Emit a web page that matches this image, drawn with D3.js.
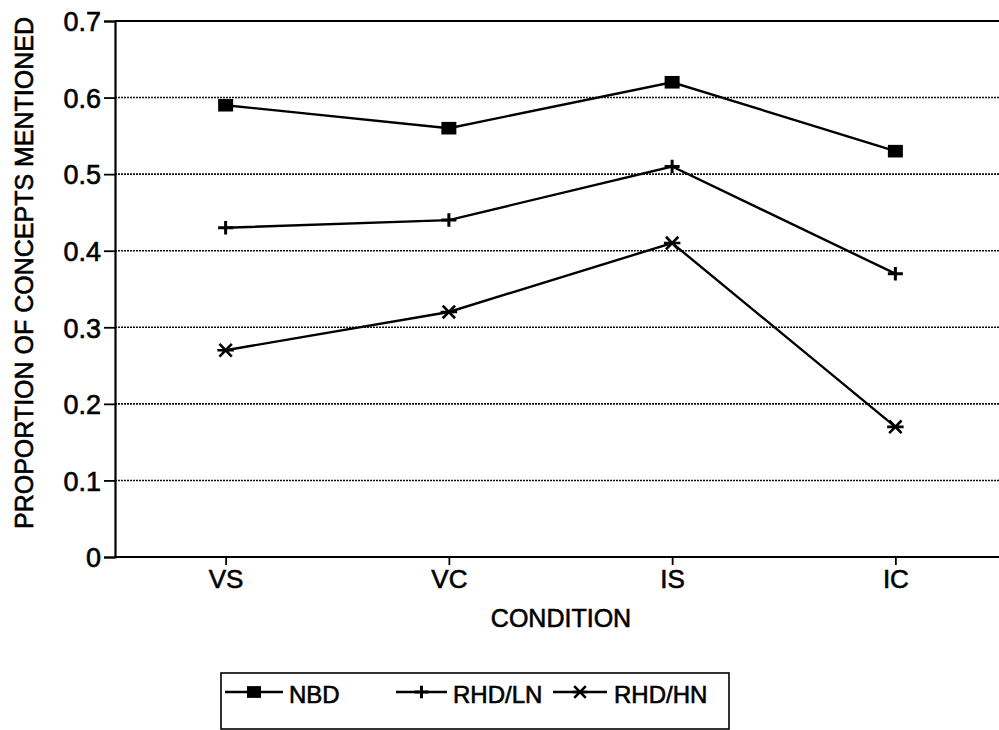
<!DOCTYPE html>
<meta charset="utf-8">
<style>
    body { margin: 0; background: #fff; }
    text { font-family: "Liberation Sans", Arial, sans-serif; fill: #000; stroke: #000; stroke-width: 0.6px; }
</style>
<script src="https://d3js.org/d3.v7.min.js"></script>
<svg id="chart" width="999" height="730"></svg>
<script>

// data
var conditions = ["VS", "VC", "IS", "IC"];
var seriesNames = ["NBD", "RHD/LN", "RHD/HN"];
var nbd = [0.59, 0.56, 0.62, 0.53];
var rhdLn = [0.43, 0.44, 0.51, 0.37];
var rhdHn = [0.27, 0.32, 0.41, 0.17];
var yTicks = [0, 0.1, 0.2, 0.3, 0.4, 0.5, 0.6, 0.7];

var series = [
    { name: seriesNames[0], values: nbd, marker: "square" },
    { name: seriesNames[1], values: rhdLn, marker: "plus" },
    { name: seriesNames[2], values: rhdHn, marker: "star" }
];

var svg = d3.select("#chart");

var x = d3.scalePoint().domain(conditions).range([114, 1007]).padding(0.5);
var y = d3.scaleLinear().domain([0, 0.7]).range([557, 21]);

// dotted grid lines
svg.append("g")
    .selectAll("line")
    .data(yTicks.filter(function(d) { return d > 0 && d < 0.7; }))
    .enter().append("line")
        .attr("x1", 115).attr("x2", 999)
        .attr("y1", function(d) { return y(d); })
        .attr("y2", function(d) { return y(d); })
        .attr("stroke", "#111")
        .attr("stroke-width", 1.6)
        .attr("stroke-dasharray", "2,1");

// top frame line
svg.append("line")
    .attr("x1", 115).attr("x2", 999)
    .attr("y1", y(0.7)).attr("y2", y(0.7))
    .attr("stroke", "#000").attr("stroke-width", 2.2);

// y axis
var yAxis = svg.append("g")
    .attr("transform", "translate(115,0)")
    .call(d3.axisLeft(y).tickValues(yTicks).tickSize(11).tickPadding(3)
        .tickFormat(function(d) { return d === 0 ? "0" : d3.format(".1f")(d); }));
yAxis.select(".domain").attr("stroke-width", 2.2);
yAxis.selectAll(".tick line").attr("stroke-width", 1.8);
yAxis.selectAll(".tick text")
    .attr("font-size", 27)
    .attr("dy", "0.36em")
    .style("font-family", "Liberation Sans, Arial, sans-serif");

// x axis
var xAxis = svg.append("g")
    .attr("transform", "translate(0,557)")
    .call(d3.axisBottom(x).tickSize(8).tickPadding(5));
xAxis.select(".domain").attr("d", "M115,0H999").attr("stroke-width", 2.2);
xAxis.selectAll(".tick line").attr("stroke-width", 1.8);
xAxis.selectAll(".tick text")
    .attr("font-size", 26)
    .style("font-family", "Liberation Sans, Arial, sans-serif");

// axis titles
svg.append("text")
    .attr("x", 561).attr("y", 627)
    .attr("text-anchor", "middle")
    .attr("font-size", 25)
    .text("CONDITION");

svg.append("text")
    .attr("transform", "translate(33,273) rotate(-90)")
    .attr("text-anchor", "middle")
    .attr("font-size", 25)
    .text("PROPORTION OF CONCEPTS MENTIONED");

// marker drawing
function drawMarker(g, type, cx, cy, s) {
    if (type === "square") {
        g.append("rect")
            .attr("x", cx - s * 0.5).attr("y", cy - s * 0.42)
            .attr("width", s).attr("height", s * 0.84)
            .attr("fill", "#000");
    } else if (type === "plus") {
        g.append("path")
            .attr("d", "M" + (cx - s / 2) + "," + cy + "H" + (cx + s / 2) +
                "M" + cx + "," + (cy - s * 0.45) + "V" + (cy + s * 0.45))
            .attr("stroke", "#000").attr("stroke-width", 3).attr("fill", "none");
    } else {
        var h = s * 0.55, v = s * 0.42;
        g.append("path")
            .attr("d", "M" + (cx - h) + "," + cy + "H" + (cx + h) +
                "M" + (cx - h * 0.75) + "," + (cy - v) + "L" + (cx + h * 0.75) + "," + (cy + v) +
                "M" + (cx - h * 0.75) + "," + (cy + v) + "L" + (cx + h * 0.75) + "," + (cy - v))
            .attr("stroke", "#000").attr("stroke-width", 2.6).attr("fill", "none");
    }
}

var line = d3.line()
    .x(function(d, i) { return x(conditions[i]); })
    .y(function(d) { return y(d); });

series.forEach(function(s) {
    var g = svg.append("g");
    g.append("path")
        .attr("d", line(s.values))
        .attr("fill", "none")
        .attr("stroke", "#000")
        .attr("stroke-width", 2.4);
    s.values.forEach(function(v, i) {
        drawMarker(g, s.marker, x(conditions[i]), y(v), 15);
    });
});

// legend
var legend = svg.append("g");
legend.append("rect")
    .attr("x", 221).attr("y", 673)
    .attr("width", 508).attr("height", 56)
    .attr("fill", "none").attr("stroke", "#000").attr("stroke-width", 1.6);

var legendPos = [
    { x1: 225, x2: 283, tx: 289 },
    { x1: 396, x2: 447, tx: 453 },
    { x1: 553, x2: 607, tx: 614 }
];
series.forEach(function(s, i) {
    var p = legendPos[i], ly = 692;
    legend.append("line")
        .attr("x1", p.x1).attr("x2", p.x2)
        .attr("y1", ly).attr("y2", ly)
        .attr("stroke", "#000").attr("stroke-width", 2.4);
    drawMarker(legend, s.marker, (p.x1 + p.x2) / 2, ly, 14);
    legend.append("text")
        .attr("x", p.tx).attr("y", 703)
        .attr("font-size", 24)
        .text(s.name);
});

</script>
